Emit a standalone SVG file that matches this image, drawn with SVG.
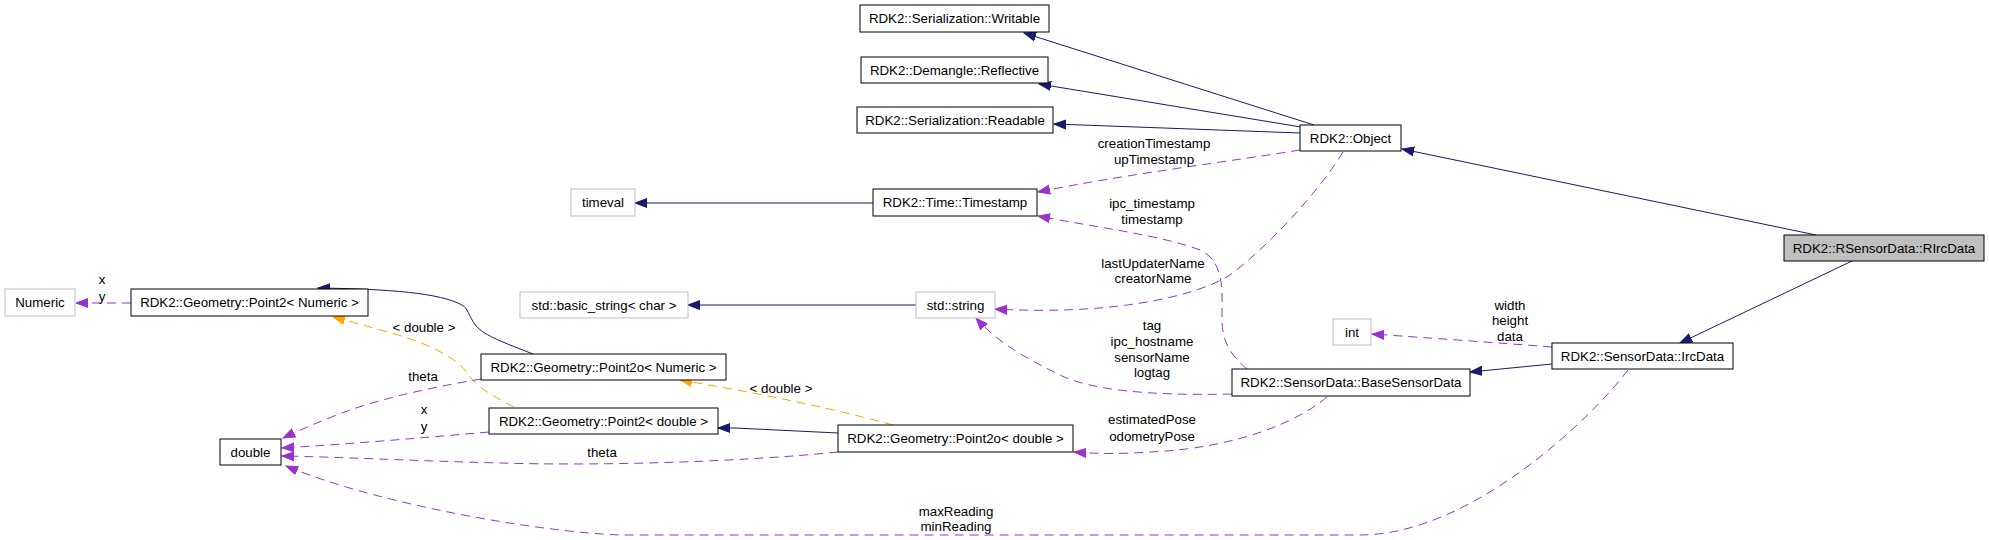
<svg xmlns="http://www.w3.org/2000/svg" width="1989" height="540" viewBox="0 0 1989 540">
<style>
.n rect{fill:#fff;stroke:#000;stroke-width:1}
.n.g rect{stroke:#bfbfbf}
.n.s rect{fill:#bfbfbf}
text{font-family:"Liberation Sans",Arial,Helvetica,sans-serif;font-size:13.3px;fill:#000;text-anchor:middle}
.e path{fill:none;stroke-width:1}
.inh{stroke:#191970}
.use{stroke:#9a32cd;stroke-dasharray:9,6}
.tpl{stroke:#ffa500;stroke-dasharray:9,6}
</style>
<defs>
<marker id="aN" markerUnits="userSpaceOnUse" markerWidth="14" markerHeight="12" refX="12" refY="5" orient="auto" viewBox="0 0 14 10"><path d="M0,0.5 L12,5 L0,9.5 z" fill="#191970" stroke="#191970"/></marker>
<marker id="aP" markerUnits="userSpaceOnUse" markerWidth="14" markerHeight="12" refX="12" refY="5" orient="auto" viewBox="0 0 14 10"><path d="M0,0.5 L12,5 L0,9.5 z" fill="#9a32cd" stroke="#9a32cd"/></marker>
<marker id="aO" markerUnits="userSpaceOnUse" markerWidth="14" markerHeight="12" refX="12" refY="5" orient="auto" viewBox="0 0 14 10"><path d="M0,0.5 L12,5 L0,9.5 z" fill="#ffa500" stroke="#ffa500"/></marker>
</defs>
<rect x="0" y="0" width="1989" height="540" fill="#fff"/>
<g id="edges" class="e">
<path class="inh" d="M1816,235 L1402,149" marker-end="url(#aN)"/>
<path class="inh" d="M1852,261 L1680,343" marker-end="url(#aN)"/>
<path class="inh" d="M1552,364 L1470,372" marker-end="url(#aN)"/>
<path class="inh" d="M1314,125 L1024,33" marker-end="url(#aN)"/>
<path class="inh" d="M1301,127 L1039,84" marker-end="url(#aN)"/>
<path class="inh" d="M1300,133 L1054,124" marker-end="url(#aN)"/>
<path class="inh" d="M873,203 L635,203" marker-end="url(#aN)"/>
<path class="inh" d="M916,305 L688,305" marker-end="url(#aN)"/>
<path class="inh" d="M533,354 C505,343 485,336 476,326 C468,315 468,308 462,305 C440,293 390,289 318,288" marker-end="url(#aN)"/>
<path class="inh" d="M838,433 L735,428 L718,428" marker-end="url(#aN)"/>
<path class="tpl" d="M893,425 C820,405 740,390 680,380" marker-end="url(#aO)"/>
<path class="tpl" d="M514,407 C490,395 475,385 468,374 C455,355 420,340 380,330 C360,324 345,320 333,317" marker-end="url(#aO)"/>
<path class="use" d="M131,303 L76,303" marker-end="url(#aP)"/>
<path class="use" d="M481,379 C440,386 390,396 350,410 C325,419 300,430 283,438" marker-end="url(#aP)"/>
<path class="use" d="M489,432 C420,438 350,444 282,448" marker-end="url(#aP)"/>
<path class="use" d="M838,452 C740,462 600,466 500,463 C420,461 340,457 282,456" marker-end="url(#aP)"/>
<path class="use" d="M1628,370 C1590,420 1470,535 1360,535 L620,535 C540,532 380,505 286,466" marker-end="url(#aP)"/>
<path class="use" d="M1300,150 C1240,160 1120,175 1038,192" marker-end="url(#aP)"/>
<path class="use" d="M1247,369 C1230,355 1222,340 1222,320 C1222,290 1225,262 1200,250 C1160,235 1100,228 1038,216" marker-end="url(#aP)"/>
<path class="use" d="M1343,152 C1320,190 1270,245 1230,275 C1190,300 1100,315 995,309" marker-end="url(#aP)"/>
<path class="use" d="M1232,394 C1150,396 1090,390 1060,375 C1030,360 1000,345 976,318" marker-end="url(#aP)"/>
<path class="use" d="M1327,397 C1300,420 1240,448 1150,452 C1120,454 1100,454 1074,452" marker-end="url(#aP)"/>
<path class="use" d="M1552,347 C1500,343 1430,338 1372,334" marker-end="url(#aP)"/>
<text x="424" y="332">&lt; double &gt;</text>
<text x="781" y="393">&lt; double &gt;</text>
<text x="102" y="284">x</text>
<text x="102" y="301">y</text>
<text x="423" y="381">theta</text>
<text x="424" y="414">x</text>
<text x="424" y="431">y</text>
<text x="602" y="457">theta</text>
<text x="956" y="516">maxReading</text>
<text x="956" y="531">minReading</text>
<text x="1154" y="148">creationTimestamp</text>
<text x="1154" y="164">upTimestamp</text>
<text x="1152" y="208">ipc_timestamp</text>
<text x="1152" y="224">timestamp</text>
<text x="1153" y="268">lastUpdaterName</text>
<text x="1153" y="283">creatorName</text>
<text x="1152" y="330">tag</text>
<text x="1152" y="346">ipc_hostname</text>
<text x="1152" y="362">sensorName</text>
<text x="1152" y="377">logtag</text>
<text x="1152" y="424">estimatedPose</text>
<text x="1152" y="441">odometryPose</text>
<text x="1510" y="310">width</text>
<text x="1510" y="325">height</text>
<text x="1510" y="341">data</text>
</g>
<g id="RIrcData" class="n s"><rect x="1784" y="235" width="200" height="26"/><text x="1884" y="252.5">RDK2::RSensorData::RIrcData</text></g>
<g id="Object" class="n"><rect x="1300" y="125" width="101" height="26"/><text x="1350.5" y="142.5">RDK2::Object</text></g>
<g id="Writable" class="n"><rect x="860" y="5" width="189" height="27"/><text x="954.5" y="23">RDK2::Serialization::Writable</text></g>
<g id="Reflective" class="n"><rect x="861" y="57" width="187" height="26"/><text x="954.5" y="74.5">RDK2::Demangle::Reflective</text></g>
<g id="Readable" class="n"><rect x="857" y="107" width="196" height="26"/><text x="955" y="124.5">RDK2::Serialization::Readable</text></g>
<g id="Timestamp" class="n"><rect x="873" y="189" width="164" height="27"/><text x="955" y="207">RDK2::Time::Timestamp</text></g>
<g id="timeval" class="n g"><rect x="571" y="189" width="64" height="27"/><text x="603" y="207">timeval</text></g>
<g id="string" class="n g"><rect x="916" y="292" width="79" height="26"/><text x="955.5" y="309.5">std::string</text></g>
<g id="basic_string" class="n g"><rect x="520" y="292" width="168" height="26"/><text x="604" y="309.5">std::basic_string&lt; char &gt;</text></g>
<g id="Numeric" class="n g"><rect x="5" y="289" width="70" height="27"/><text x="40" y="307">Numeric</text></g>
<g id="Point2Numeric" class="n"><rect x="131" y="289" width="237" height="27"/><text x="249.5" y="307">RDK2::Geometry::Point2&lt; Numeric &gt;</text></g>
<g id="Point2oNumeric" class="n"><rect x="481" y="354" width="245" height="26"/><text x="603.5" y="371.5">RDK2::Geometry::Point2o&lt; Numeric &gt;</text></g>
<g id="double" class="n"><rect x="220" y="439" width="61" height="26"/><text x="250.5" y="456.5">double</text></g>
<g id="Point2double" class="n"><rect x="489" y="408" width="229" height="26"/><text x="603.5" y="425.5">RDK2::Geometry::Point2&lt; double &gt;</text></g>
<g id="Point2odouble" class="n"><rect x="838" y="425" width="235" height="27"/><text x="955.5" y="443">RDK2::Geometry::Point2o&lt; double &gt;</text></g>
<g id="BaseSensorData" class="n"><rect x="1232" y="369" width="238" height="27"/><text x="1351" y="387">RDK2::SensorData::BaseSensorData</text></g>
<g id="IrcData" class="n"><rect x="1552" y="343" width="181" height="26"/><text x="1642.5" y="360.5">RDK2::SensorData::IrcData</text></g>
<g id="int" class="n g"><rect x="1333" y="319" width="38" height="26"/><text x="1352" y="336.5">int</text></g>
</svg>
